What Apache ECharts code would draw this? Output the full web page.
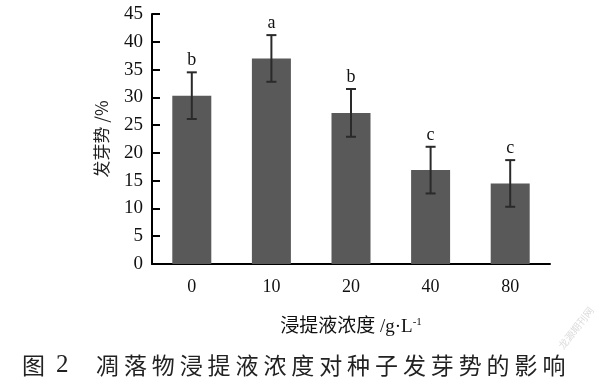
<!DOCTYPE html>
<html>
<head>
<meta charset="utf-8">
<script src="https://cdn.jsdelivr.net/npm/echarts@6/dist/echarts.min.js"></script>
<style>html,body{margin:0;padding:0;background:#fff}#c{width:600px;height:383px}</style>
</head>
<body>
<div id="c"></div>
<script>
// ---- data ----
const categories = ['0', '10', '20', '40', '80'];
const values = [30.3, 37.0, 27.2, 16.9, 14.5];
const errors = [4.2, 4.2, 4.3, 4.2, 4.2];
const letters = ['b', 'a', 'b', 'c', 'c'];
const yMin = 0, yMax = 45, yStep = 5;
const yName = '发芽势 /%';
const xName = '浸提液浓度 /g·L';
const xNameSup = '-1';
const captionHead = '图';
const captionNum = '2';
const captionBody = '凋落物浸提液浓度对种子发芽势的影响';
const watermark = '龙源期刊网';

const serif = '"Liberation Serif","Noto Sans CJK SC",serif';
const chart = echarts.init(document.getElementById('c'), null, {renderer: 'canvas'});

const captionChars = captionBody.split('').map((ch, i) => ({
  type: 'text', x: 96 + i * 27.9, y: 365,
  style: {text: ch, font: '23px "Noto Sans CJK SC"', fill: '#222', align: 'left', verticalAlign: 'middle'}
}));

chart.setOption({
  backgroundColor: '#fff',
  animation: false,
  grid: {left: 152, right: 50, top: 14, bottom: 119, containLabel: false},
  xAxis: {
    type: 'category', data: categories,
    axisLine: {lineStyle: {color: '#000', width: 2}},
    axisTick: {show: false},
    axisLabel: {color: '#111', fontFamily: serif, fontSize: 18, margin: 14},
    name: xName + '{sup|' + xNameSup + '}',
    nameLocation: 'middle', nameGap: 53,
    nameTextStyle: {color: '#111', fontFamily: serif, fontSize: 19,
      rich: {sup: {fontFamily: serif, fontSize: 11, verticalAlign: 'top', padding: [0, 0, 9, 0], color: '#111'}}}
  },
  yAxis: {
    type: 'value', min: yMin, max: yMax, interval: yStep,
    axisLine: {show: true, lineStyle: {color: '#000', width: 2}},
    axisTick: {show: true, inside: true, length: 8, lineStyle: {color: '#000', width: 2}},
    splitLine: {show: false},
    axisLabel: {color: '#111', fontFamily: serif, fontSize: 19, margin: 9},
    name: yName, nameLocation: 'middle', nameRotate: 90, nameGap: 42,
    nameTextStyle: {color: '#222', fontFamily: '"Noto Sans CJK SC",' + serif, fontSize: 17}
  },
  series: [
    {
      type: 'bar', data: values, barWidth: 39,
      itemStyle: {color: '#595959'}
    },
    {
      type: 'custom',
      data: categories.map((c, i) => [i, values[i], errors[i]]),
      z: 5,
      renderItem: function (params, api) {
        const i = params.dataIndex;
        const x = api.value(0), v = api.value(1), e = api.value(2);
        const top = api.coord([x, v + e]);
        const bot = api.coord([x, v - e]);
        const cw = 5;
        const st = {stroke: '#2a2a2a', lineWidth: 2};
        return {
          type: 'group',
          children: [
            {type: 'line', shape: {x1: top[0], y1: top[1], x2: bot[0], y2: bot[1]}, style: st},
            {type: 'line', shape: {x1: top[0] - cw, y1: top[1], x2: top[0] + cw, y2: top[1]}, style: st},
            {type: 'line', shape: {x1: bot[0] - cw, y1: bot[1], x2: bot[0] + cw, y2: bot[1]}, style: st},
            {type: 'text', style: {text: letters[i], x: top[0], y: top[1] - 3, align: 'center', verticalAlign: 'bottom',
              font: '18px ' + serif, fill: '#111'}}
          ]
        };
      }
    }
  ],
  graphic: [
    {type: 'text', x: 22, y: 365, style: {text: captionHead, font: '23px "Noto Sans CJK SC"', fill: '#222', verticalAlign: 'middle'}},
    {type: 'text', x: 56, y: 365, style: {text: captionNum, font: '25px ' + serif, fill: '#222', verticalAlign: 'middle'}},
    ...captionChars,
    {type: 'text', x: 576, y: 328, rotation: 0.9, style: {text: watermark, font: '10px "Noto Sans CJK SC"', fill: '#dcdcdc', align: 'center', verticalAlign: 'middle'}}
  ]
});
</script>
</body>
</html>
